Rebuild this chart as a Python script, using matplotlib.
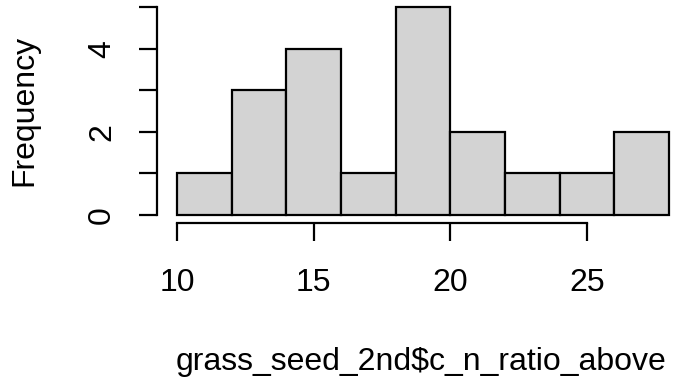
import numpy as np
import matplotlib
matplotlib.use("Agg")
import matplotlib.pyplot as plt

# histogram of grass_seed_2nd$c_n_ratio_above
breaks = [10, 12, 14, 16, 18, 20, 22, 24, 26, 28]
counts = [1, 3, 4, 1, 5, 2, 1, 1, 2]
x_ticks = [10, 15, 20, 25]
y_ticks = [0, 1, 2, 3, 4, 5]
y_labels = ["0", "", "2", "", "4", ""]

plt.rcParams['font.family'] = ['Liberation Sans', 'DejaVu Sans']
W, H = 673, 380
fig = plt.figure(figsize=(W / 100, H / 100), dpi=100)

# axes placed so that 10 -> x=177px, 28 -> x=669px, 0 -> y=215px, 5 -> y=7px
px_x = (669 - 177) / 18
px_y = (215 - 7) / 5
xlim = (9.28, 28.72)
ylim = (-0.2, 5.2)
left = 177 - (10 - xlim[0]) * px_x
right = 177 + (xlim[1] - 10) * px_x
bottom = 215 + (0 - ylim[0]) * px_y
top = 215 - (ylim[1] - 0) * px_y
ax = fig.add_axes([left / W, 1 - bottom / H, (right - left) / W, (bottom - top) / H])

edges = np.array(breaks)
ax.bar(edges[:-1], counts, width=np.diff(edges), align='edge',
       color='#D3D3D3', edgecolor='black', linewidth=1.6)

ax.set_xlim(*xlim)
ax.set_ylim(*ylim)
for s in ['top', 'right']:
    ax.spines[s].set_visible(False)
ax.spines['left'].set_bounds(0, 5)
ax.spines['bottom'].set_bounds(10, 25)
ax.spines['left'].set_linewidth(1.6)
ax.spines['bottom'].set_linewidth(1.6)
ax.patch.set_visible(False)

ax.set_xticks(x_ticks)
ax.set_xticklabels([str(v) for v in x_ticks])
ax.set_yticks(y_ticks)
ax.set_yticklabels(y_labels, rotation=90, va='center')
ax.tick_params(axis='both', direction='out', length=13, width=1.6,
               labelsize=23, colors='black')
ax.tick_params(axis='x', pad=19.5)
ax.tick_params(axis='y', pad=16)

fig.text(24 / W, 1 - 110 / H, "Frequency", rotation=90, ha='center', va='center', fontsize=23)
fig.text(421 / W, 1 - 362 / H, "grass_seed_2nd$c_n_ratio_above", ha='center', va='center', fontsize=23)

fig.savefig("out.png", dpi=100)
